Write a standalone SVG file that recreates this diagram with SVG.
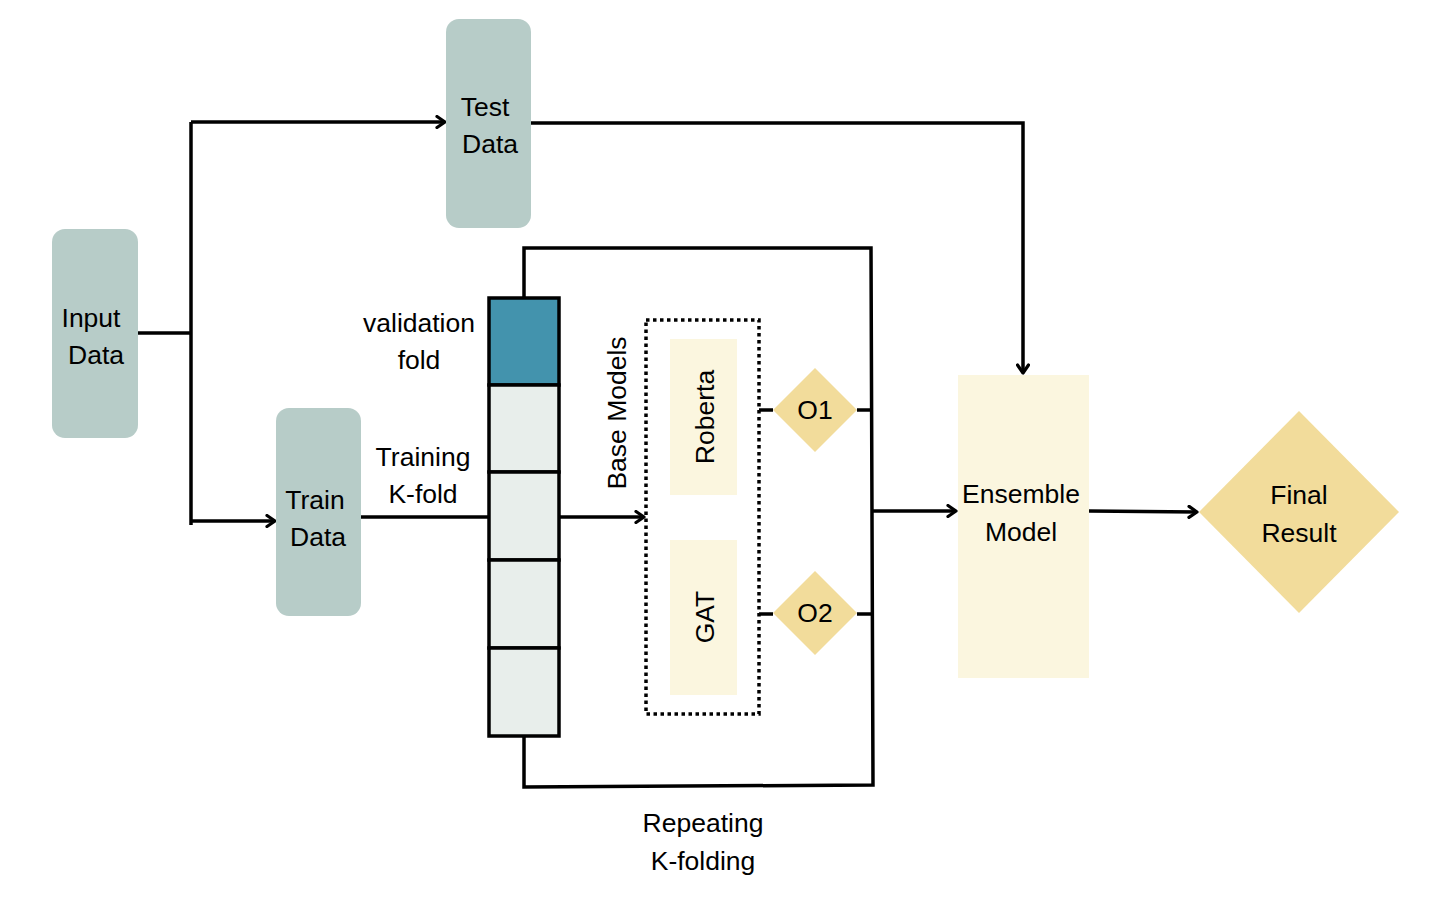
<svg xmlns="http://www.w3.org/2000/svg" width="1432" height="908" viewBox="0 0 1432 908">
<style>
.t{font-family:"Comic Sans MS","Liberation Sans","DejaVu Sans",sans-serif;font-size:26.5px;fill:#000;text-anchor:middle}
.data{fill:#b7ccc8}
.cell{fill:#e8eeeb;stroke:#000;stroke-width:3.5}
.pale{fill:#fbf6df}
.dia{fill:#f2dc9b}
.ln{fill:none;stroke:#000;stroke-width:3.5}
</style>
<defs>
<marker id="ah" viewBox="0 0 14 14" refX="11" refY="7" markerWidth="14" markerHeight="14" markerUnits="userSpaceOnUse" orient="auto">
<path d="M3,1.5 L11,7 L3,12.5" fill="none" stroke="#000" stroke-width="3.2" stroke-linecap="round" stroke-linejoin="round"/>
</marker>
</defs>
<g id="connectors">
<path class="ln" d="M138,333 H191"/>
<path class="ln" d="M191,122 V525"/>
<path class="ln" d="M191,122 H445" marker-end="url(#ah)"/>
<path class="ln" d="M191,521 H275" marker-end="url(#ah)"/>
<path class="ln" d="M531,123 H1023 V373" marker-end="url(#ah)"/>
<path class="ln" d="M361,517 H488"/>
<path class="ln" d="M524,297 V248 H871 L873,785 L524,787 V736"/>
<path class="ln" d="M560,517 H644" marker-end="url(#ah)"/>
<path class="ln" d="M759,410 H773 M857,410 H871"/>
<path class="ln" d="M759,614 H773 M857,614 H872"/>
<path class="ln" d="M872,511 H956" marker-end="url(#ah)"/>
<path class="ln" d="M1089,511 L1197,512" marker-end="url(#ah)"/>
</g>
<g id="input-data">
<rect class="data" x="52" y="229" width="86" height="209" rx="13"/>
<text class="t" x="91" y="327">Input</text>
<text class="t" x="96" y="364">Data</text>
</g>
<g id="test-data">
<rect class="data" x="446" y="19" width="85" height="209" rx="13"/>
<text class="t" x="485" y="116">Test</text>
<text class="t" x="490" y="153">Data</text>
</g>
<g id="train-data">
<rect class="data" x="276" y="408" width="85" height="208" rx="13"/>
<text class="t" x="315" y="509">Train</text>
<text class="t" x="318" y="546">Data</text>
</g>
<g id="training-label">
<text class="t" x="423" y="466">Training</text>
<text class="t" x="423" y="503">K-fold</text>
</g>
<g id="validation-label">
<text class="t" x="419" y="332">validation</text>
<text class="t" x="419" y="369">fold</text>
</g>
<g id="folds">
<rect x="489" y="298" width="70" height="87" fill="#4393ad" stroke="#000" stroke-width="3.5"/>
<rect class="cell" x="489" y="385" width="70" height="87"/>
<rect class="cell" x="489" y="472" width="70" height="88"/>
<rect class="cell" x="489" y="560" width="70" height="88"/>
<rect class="cell" x="489" y="648" width="70" height="88"/>
</g>
<g id="base-models">
<rect x="646" y="320" width="113" height="394" fill="none" stroke="#000" stroke-width="3.5" stroke-dasharray="3.5,3.5"/>
<text class="t" transform="translate(626,413) rotate(-90)">Base Models</text>
</g>
<g id="roberta">
<rect class="pale" x="670" y="339" width="67" height="156"/>
<text class="t" transform="translate(714,417) rotate(-90)">Roberta</text>
</g>
<g id="gat">
<rect class="pale" x="670" y="540" width="67" height="155"/>
<text class="t" transform="translate(714,617) rotate(-90)">GAT</text>
</g>
<g id="o1">
<polygon class="dia" points="815,368 857,410 815,452 773,410"/>
<text class="t" x="815" y="419">O1</text>
</g>
<g id="o2">
<polygon class="dia" points="815,571 857,613 815,655 773,613"/>
<text class="t" x="815" y="622">O2</text>
</g>
<g id="ensemble">
<rect class="pale" x="958" y="375" width="131" height="303"/>
<text class="t" x="1021" y="503">Ensemble</text>
<text class="t" x="1021" y="541">Model</text>
</g>
<g id="final-result">
<polygon class="dia" points="1299,411 1399,512 1299,613 1199,512"/>
<text class="t" x="1299" y="504">Final</text>
<text class="t" x="1299" y="542">Result</text>
</g>
<g id="repeating-label">
<text class="t" x="703" y="832">Repeating</text>
<text class="t" x="703" y="870">K-folding</text>
</g>
</svg>
